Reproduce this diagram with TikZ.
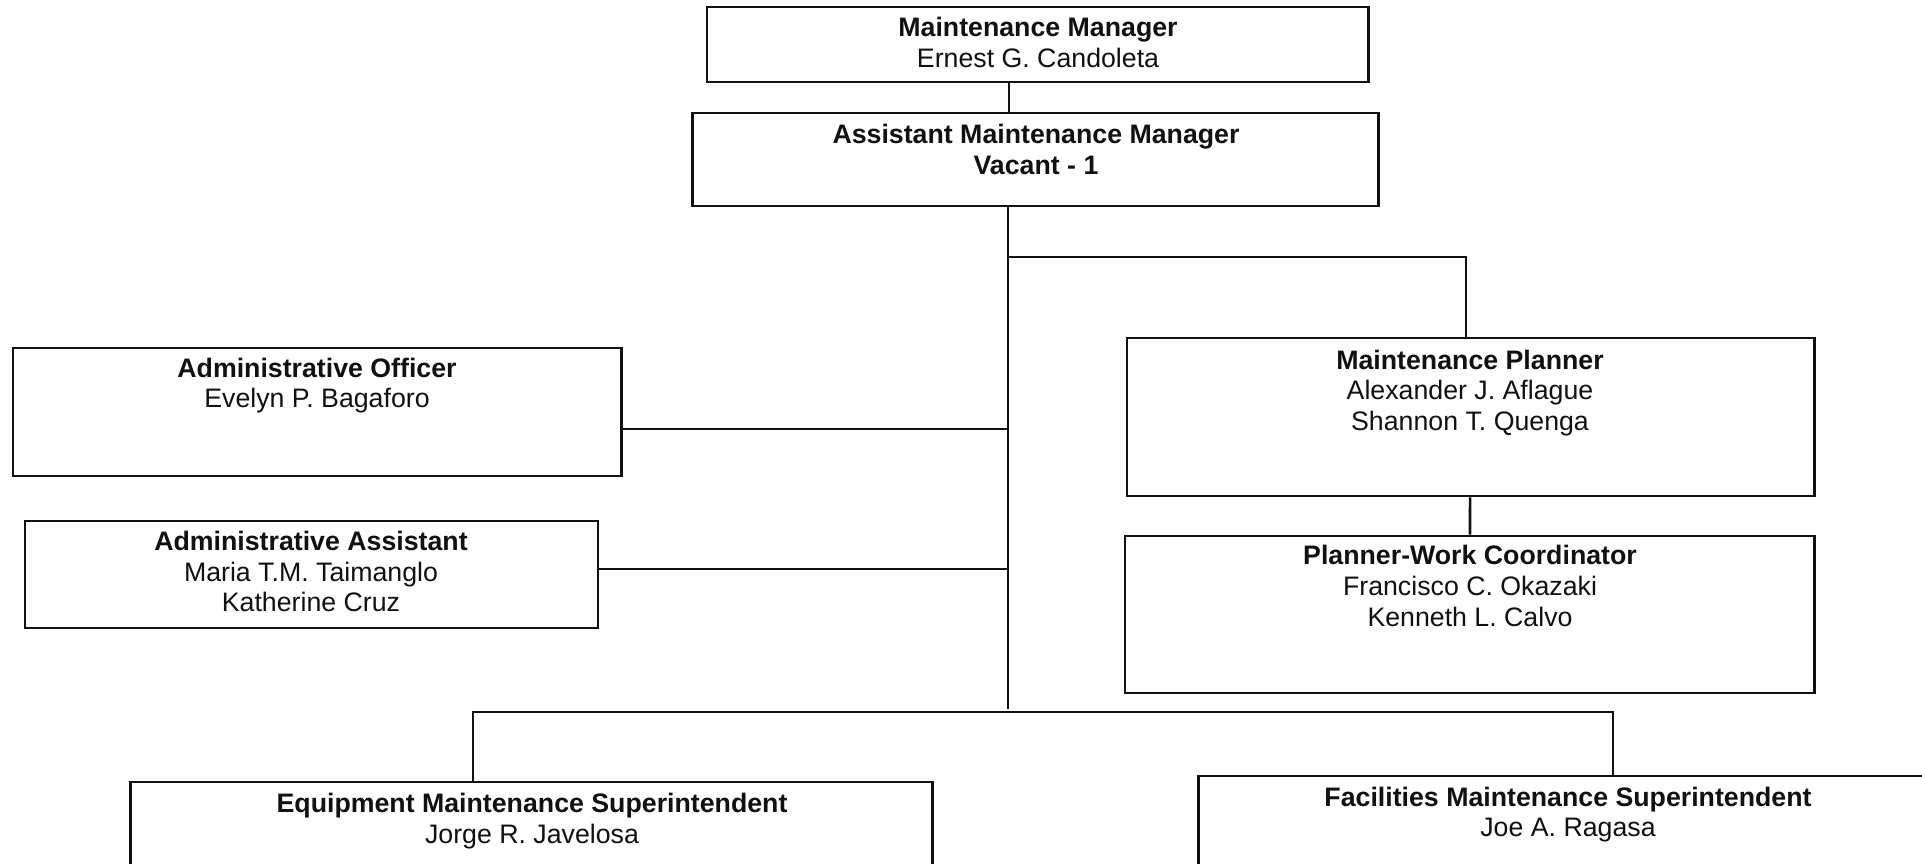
\documentclass[tikz,border=0pt]{standalone}
\usepackage{fontspec}
\setmainfont{Liberation Sans}
\usepackage{tikz}
\usetikzlibrary{positioning,calc}
\definecolor{OCInk}{HTML}{111111}
\tikzset{
  box/.style={draw=OCInk,line width=0.75pt,fill=white,inner sep=0pt},
  link/.style={draw=OCInk,line width=0.75pt},
  who/.style={text=OCInk,font=\fontsize{7.6}{8.7}\selectfont,align=center,inner sep=0pt},
}

\begin{document}
\begin{tikzpicture}[x=0.01cm,y=-0.01cm]
    \path[use as bounding box,clip] (0,0) rectangle (1922,863);

    % boxes
    \node[box,minimum width=6.61cm,minimum height=0.75cm] (manager) at (1037.5,44.5) {};
    \node[box,minimum width=6.85cm,minimum height=0.93cm] (assistant) at (1035.5,159.5) {};
    \node[box,minimum width=6.87cm,minimum height=1.58cm] (planner) at (1470.5,417) {};
    \node[box,minimum width=6.89cm,minimum height=1.57cm] (coordinator) at (1469.5,614.5) {};
    \node[box,minimum width=6.08cm,minimum height=1.28cm] (adminoff) at (317,412) {};
    \node[box,minimum width=5.73cm,minimum height=1.07cm] (adminasst) at (311.5,574.5) {};
    \node[box,minimum width=8.01cm,minimum height=1.38cm] (equipsup) at (531.5,851) {};
    \node[box,minimum width=7.38cm,minimum height=1.44cm] (facilsup) at (1568,848) {};

    % texts
    \node[who] (managerT) at (1038,42.5)
      {\textbf{Maintenance Manager}\\Ernest G. Candoleta};
    \node[who] (assistantT) at (1036,149.5)
      {\textbf{Assistant Maintenance Manager}\\\textbf{Vacant - 1}};
    \node[who] (plannerT) at (1470,393)
      {\textbf{Maintenance Planner}\\Alexander J. Aflague\\Shannon T. Quenga};
    \node[who] (coordinatorT) at (1470,586)
      {\textbf{Planner-Work Coordinator}\\Francisco C. Okazaki\\Kenneth L. Calvo};
    \node[who] (adminoffT) at (317,385.5)
      {\textbf{Administrative Officer}\\Evelyn P. Bagaforo};
    \node[who] (adminasstT) at (311,571.5)
      {\textbf{Administrative Assistant}\\Maria T.M. Taimanglo\\Katherine Cruz};
    \node[who] (equipsupT) at (532,821)
      {\textbf{Equipment Maintenance Superintendent}\\Jorge R. Javelosa};
    \node[who] (facilsupT) at (1568,814.5)
      {\textbf{Facilities Maintenance Superintendent}\\Joe A. Ragasa};

    % junctions
    \coordinate (jtop) at (1009,257);
    \coordinate (jplan) at (1466,257);
    \coordinate (jao) at (1008,429);
    \coordinate (jaa) at (1008,569);
    \coordinate (jend) at (1008,709);
    \coordinate (jeq) at (473,712);
    \coordinate (jfa) at (1613,712);

    % connectors
    \draw[link] (manager.south -| jtop) -- (assistant.north -| jtop);
    \draw[link] (assistant.south -| jend) -- (jend);
    \draw[link] (jtop) -- (jplan) -- (planner.north -| jplan);
    \draw[link] (planner) -- (coordinator);
    \draw[link] (adminoff.east |- jao) -- (jao);
    \draw[link] (adminasst.east |- jaa) -- (jaa);
    \draw[link] (equipsup.north -| jeq) -- (jeq) -- (jfa) -- (facilsup.north -| jfa);
  \end{tikzpicture}
\end{document}
